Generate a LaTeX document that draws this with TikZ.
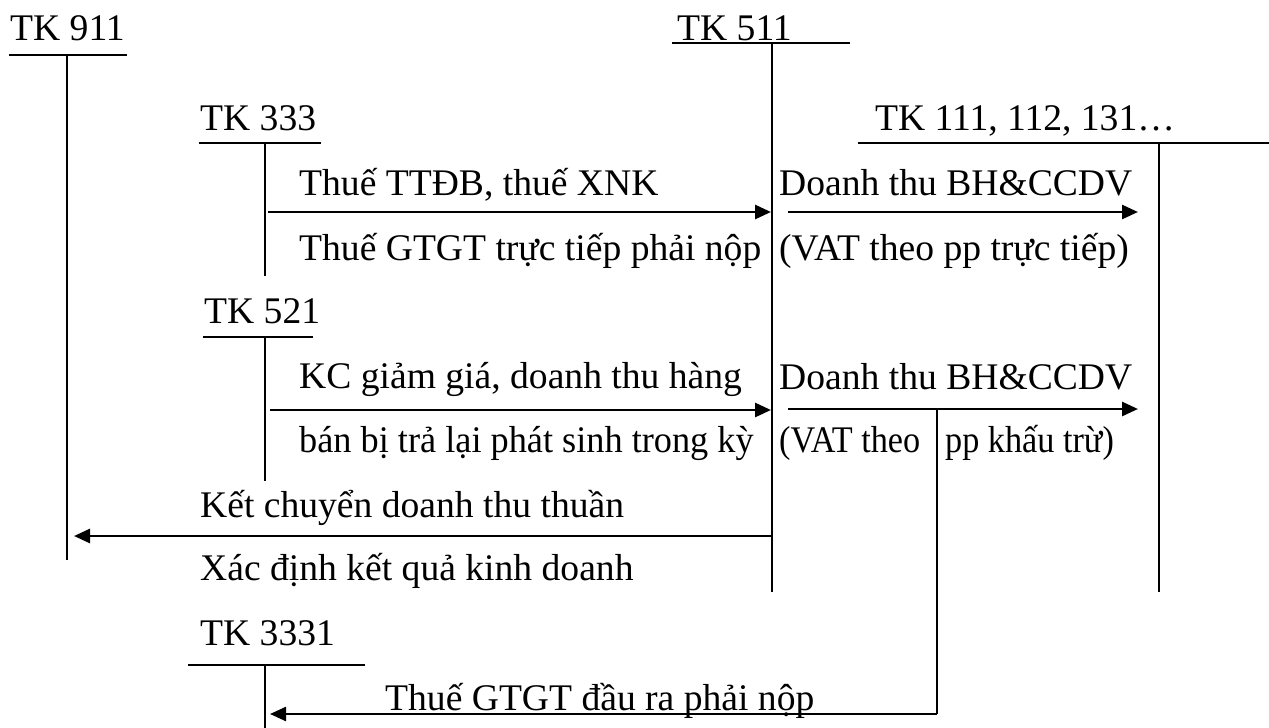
\documentclass[tikz,border=0pt]{standalone}
\usepackage{fontspec}
\setmainfont{Liberation Serif}
\usetikzlibrary{arrows.meta}
\begin{document}
\begin{tikzpicture}[x=1pt,y=-1pt,
  acct/.style={line width=1.6pt},
  flow/.style={line width=2.8pt,-{Triangle[length=16pt,width=14pt]}},
  lbl/.style={anchor=base west,inner sep=0pt,font=\fontsize{37.6}{44}\selectfont},
]
\useasboundingbox (0,0) rectangle (1269,728);

% ---- T-accounts: title, rule and stem ----
\node[lbl] (t911) at (10,40) {TK 911};
\coordinate (r911a) at (9,55);   \coordinate (r911b) at (127,55);
\coordinate (s911a) at (67,55);  \coordinate (s911b) at (67,560);
\draw[acct] (r911a) -- (r911b);  \draw[acct] (s911a) -- (s911b);

\node[lbl] (t511) at (677,40) {TK 511};
\coordinate (r511a) at (672,43); \coordinate (r511b) at (850,43);
\coordinate (s511a) at (772,43); \coordinate (s511b) at (772,592);
\draw[acct] (r511a) -- (r511b);  \draw[acct] (s511a) -- (s511b);

\node[lbl] (t333) at (200,130) {TK 333};
\coordinate (r333a) at (199,143); \coordinate (r333b) at (321,143);
\coordinate (s333a) at (265,143); \coordinate (s333b) at (265,276);
\draw[acct] (r333a) -- (r333b);  \draw[acct] (s333a) -- (s333b);

\node[lbl] (t111) at (875,130) {TK 111, 112, 131…};
\coordinate (r111a) at (858,143); \coordinate (r111b) at (1269,143);
\coordinate (s111a) at (1159,143); \coordinate (s111b) at (1159,592);
\draw[acct] (r111a) -- (r111b);  \draw[acct] (s111a) -- (s111b);

\node[lbl] (t521) at (204,323) {TK 521};
\coordinate (r521a) at (203,337); \coordinate (r521b) at (313,337);
\coordinate (s521a) at (265,337); \coordinate (s521b) at (265,481);
\draw[acct] (r521a) -- (r521b);  \draw[acct] (s521a) -- (s521b);

\node[lbl] (t3331) at (200,645) {TK 3331};
\coordinate (r3331a) at (188,665); \coordinate (r3331b) at (365,665);
\coordinate (s3331a) at (265,665); \coordinate (s3331b) at (265,728);
\draw[acct] (r3331a) -- (r3331b); \draw[acct] (s3331a) -- (s3331b);

% ---- postings ----
\coordinate (a1s) at (268,212);  \coordinate (a1e) at (771,212);
\draw[flow] (a1s) -- (a1e);
\node[lbl] (l1a) at (299,195) {Thuế TTĐB, thuế XNK};
\node[lbl] (l1b) at (299,260) {Thuế GTGT trực tiếp phải nộp};

\coordinate (a2s) at (788,212);  \coordinate (a2e) at (1138,212);
\draw[flow] (a2s) -- (a2e);
\node[lbl] (l2a) at (779,195) {Doanh thu BH\&CCDV};
\node[lbl] (l2b) at (779,260) {(VAT theo pp trực tiếp)};

\coordinate (a3s) at (270,410);  \coordinate (a3e) at (771,410);
\draw[flow] (a3s) -- (a3e);
\node[lbl] (l3a) at (299,388) {KC giảm giá, doanh thu hàng};
\node[lbl] (l3b) at (299,452) {\scalebox{0.965}[1]{bán bị trả lại phát sinh trong kỳ}};

\coordinate (a4s) at (788,409);  \coordinate (a4e) at (1138,409);
\draw[flow] (a4s) -- (a4e);
\node[lbl] (l4a) at (779,389) {Doanh thu BH\&CCDV};
\node[lbl] (l4b) at (779,452) {\scalebox{0.91}[1]{(VAT theo}};
\node[lbl] (l4c) at (945,452) {\scalebox{0.91}[1]{pp khấu trừ)}};

\coordinate (a5s) at (772,536);  \coordinate (a5e) at (74,536);
\draw[flow] (a5s) -- (a5e);
\node[lbl] (l5a) at (200,517) {Kết chuyển doanh thu thuần};
\node[lbl] (l5b) at (200,580) {Xác định kết quả kinh doanh};

\coordinate (a6s) at (937,409);  \coordinate (a6k) at (937,714);
\coordinate (a6e) at (270,714);
\draw[acct] (a6s) -- (a6k);
\draw[flow,line width=2.4pt] (a6k) -- (a6e);
\node[lbl] (l6) at (385,710) {Thuế GTGT đầu ra phải nộp};
\end{tikzpicture}
\end{document}
